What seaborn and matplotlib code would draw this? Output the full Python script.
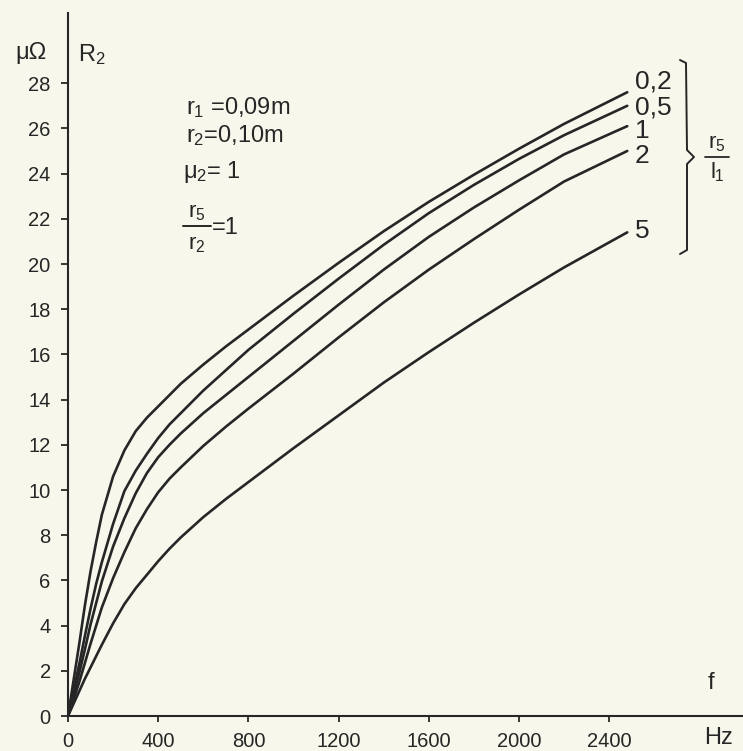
import matplotlib
matplotlib.use("Agg")
import matplotlib.pyplot as plt
from matplotlib.lines import Line2D
import pandas as pd
import seaborn as sns

# Frequency grid (Hz) and resistance R2 (µΩ) for each ratio r5/l1
freq_hz = [0, 25, 50, 75, 100, 125, 150, 200, 250, 300, 350, 400, 450, 500,
           600, 700, 800, 1000, 1200, 1400, 1600, 1800, 2000, 2200, 2480]
r2_ratio_0_2 = [0, 1.6, 3.2, 4.9, 6.4, 7.7, 8.9, 10.6, 11.75, 12.6, 13.2, 13.7,
                14.2, 14.7, 15.55, 16.35, 17.1, 18.6, 20.05, 21.45, 22.75,
                23.95, 25.1, 26.2, 27.6]
r2_ratio_0_5 = [0, 1.15, 2.3, 3.55, 4.75, 5.85, 6.8, 8.5, 9.95, 10.85, 11.6,
                12.3, 12.9, 13.4, 14.4, 15.3, 16.2, 17.8, 19.35, 20.85, 22.25,
                23.5, 24.65, 25.7, 27.0]
r2_ratio_1 = [0, 0.95, 1.9, 2.95, 4.05, 5.0, 5.95, 7.5, 8.75, 9.85, 10.75,
              11.45, 12.0, 12.5, 13.4, 14.2, 15.0, 16.6, 18.2, 19.75, 21.2,
              22.5, 23.7, 24.85, 26.1]
r2_ratio_2 = [0, 0.75, 1.5, 2.35, 3.2, 4.0, 4.8, 6.1, 7.25, 8.3, 9.15, 9.9,
              10.5, 11.0, 11.95, 12.8, 13.6, 15.15, 16.75, 18.3, 19.75, 21.1,
              22.4, 23.65, 25.0]
r2_ratio_5 = [0, 0.55, 1.1, 1.65, 2.15, 2.65, 3.15, 4.1, 4.95, 5.65, 6.25,
              6.85, 7.4, 7.9, 8.8, 9.6, 10.35, 11.85, 13.3, 14.75, 16.1,
              17.4, 18.65, 19.85, 21.4]

ratio_labels = ["0,2", "0,5", "1", "2", "5"]
x_ticks = [0, 400, 800, 1200, 1600, 2000, 2400]
y_ticks = [0, 2, 4, 6, 8, 10, 12, 14, 16, 18, 20, 22, 24, 26, 28]

series = [r2_ratio_0_2, r2_ratio_0_5, r2_ratio_1, r2_ratio_2, r2_ratio_5]
df = pd.concat(
    [pd.DataFrame({"f": freq_hz, "R2": vals, "ratio": lab})
     for lab, vals in zip(ratio_labels, series)],
    ignore_index=True,
)

sns.set_theme(style="white")
plt.rcParams["font.family"] = ["Liberation Sans", "DejaVu Sans"]
plt.rcParams["mathtext.fontset"] = "custom"
plt.rcParams["mathtext.rm"] = "Liberation Sans"
plt.rcParams["mathtext.it"] = "Liberation Sans"
plt.rcParams["mathtext.bf"] = "Liberation Sans:bold"
plt.rcParams["lines.solid_joinstyle"] = "round"

paper = "#f8f7ec"
ink = "#262626"
W, H = 743, 751

fig = plt.figure(figsize=(W / 100, H / 100), dpi=100, facecolor=paper)
ax = fig.add_axes([68 / W, (H - 716) / H, (W - 68) / W, (716 - 13) / H])
ax.set_facecolor(paper)

sns.lineplot(data=df, x="f", y="R2", hue="ratio",
             palette={lab: ink for lab in ratio_labels},
             linewidth=1.9, legend=False, ax=ax)

ax.set_xlim(0, (W - 68) / 0.2255)
ax.set_ylim(0, (716 - 13) / 22.6)
ax.set_xticks(x_ticks)
ax.set_xticklabels([str(t) for t in x_ticks])
ax.set_yticks(y_ticks)
ax.set_yticklabels([str(t) for t in y_ticks])
ax.set_xlabel("")
ax.set_ylabel("")

for side in ("top", "right"):
    ax.spines[side].set_visible(False)
for side in ("left", "bottom"):
    ax.spines[side].set_linewidth(1.5)
    ax.spines[side].set_color(ink)

ax.tick_params(axis="y", direction="out", length=5, width=1.3, pad=7.5,
               labelsize=14.5, colors=ink, left=True)
ax.tick_params(axis="x", direction="out", length=4.5, width=1.3, pad=7,
               labelsize=14.5, colors=ink, bottom=True)


def fx(x):
    return x / W


def fy(y):
    return 1 - y / H


# Axis captions
fig.text(fx(31), fy(53), "μΩ", ha="center", va="center", fontsize=17, color=ink)
fig.text(fx(78), fy(55), r"$R_2$", ha="left", va="center", fontsize=17, color=ink)
fig.text(fx(711), fy(683), "f", ha="center", va="center", fontsize=17, color=ink)
fig.text(fx(719), fy(738), "Hz", ha="center", va="center", fontsize=17, color=ink)

# Parameters of the arrangement
fig.text(fx(186), fy(108), r"$r_1$ =0,09m", ha="left", va="center", fontsize=17, color=ink)
fig.text(fx(186), fy(136), r"$r_2$=0,10m", ha="left", va="center", fontsize=17, color=ink)
fig.text(fx(183), fy(172), r"$μ_2$= 1", ha="left", va="center", fontsize=17, color=ink)
fig.text(fx(197), fy(213), r"$r_5$", ha="center", va="center", fontsize=16, color=ink)
fig.add_artist(Line2D([fx(183), fx(211)], [fy(226), fy(226)],
                      transform=fig.transFigure, color=ink, lw=1.4))
fig.text(fx(197), fy(244), r"$r_2$", ha="center", va="center", fontsize=16, color=ink)
fig.text(fx(212), fy(228), "=1", ha="left", va="center", fontsize=17, color=ink)

# Curve labels (ratio r5/l1)
label_y_px = [82, 107, 131, 156, 231]
for lab, ypx in zip(ratio_labels, label_y_px):
    fig.text(fx(635), fy(ypx), lab, ha="left", va="center", fontsize=19, color=ink)

# Brace grouping the curve labels
brace_x = [680, 686, 687, 694, 687, 687, 680]
brace_y = [60, 63, 150, 157, 164, 250, 254]
fig.add_artist(Line2D([fx(v) for v in brace_x], [fy(v) for v in brace_y],
                      transform=fig.transFigure, color=ink, lw=1.4))
fig.text(fx(717), fy(144), r"$r_5$", ha="center", va="center", fontsize=16, color=ink)
fig.add_artist(Line2D([fx(705), fx(729)], [fy(157), fy(157)],
                      transform=fig.transFigure, color=ink, lw=1.3))
fig.text(fx(717), fy(172), r"$l_1$", ha="center", va="center", fontsize=16, color=ink)

fig.savefig("out.png", dpi=100, facecolor=paper)
